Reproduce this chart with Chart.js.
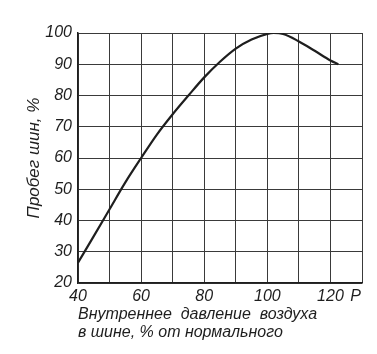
<!DOCTYPE html>
<html>
<head>
<meta charset="utf-8">
<script src="https://cdn.jsdelivr.net/npm/chart.js@4/dist/chart.umd.min.js"></script>
<style>
  html, body { margin: 0; padding: 0; background: #fff; }
  #wrap { width: 377px; height: 354px; }
</style>
</head>
<body>
<div id="wrap"><canvas id="c" width="377" height="354"></canvas></div>
<script>
// Pressure, % of normal
const pressure = [40, 45, 50, 55, 60, 65, 70, 75, 80, 85, 90, 95, 100, 102, 105, 110, 115, 120, 122.5];
// Tire mileage, %
const mileage  = [26.5, 35, 43.6, 52.2, 60, 67.5, 74, 80, 85.8, 90.8, 95, 97.9, 99.7, 100, 99.7, 97.3, 94.3, 91.2, 90];
// x tick positions and labels
const xTickValues = [40, 50, 60, 70, 80, 90, 100, 110, 120, 128, 130];
const xTickLabels = ['40', '', '60', '', '80', '', '100', '', '120', 'P', ''];
const yMin = 20, yMax = 100, yStep = 10;
const xTitle = ['Внутреннее  давление  воздуха', 'в шине, % от нормального'];
const yTitle = 'Пробег шин, %';

const tickFont = { family: "'Liberation Sans Narrow', 'Liberation Sans', sans-serif", size: 16, style: 'italic' };
const titleFont = { family: "'Liberation Sans', 'DejaVu Sans', sans-serif", size: 16, style: 'italic', lineHeight: 1.125 };
const yTitleFont = { family: "'Liberation Sans', 'DejaVu Sans', sans-serif", size: 17, style: 'italic', lineHeight: 1.2 };
const ink = '#1e1e1e';
const gridInk = '#3a3a3a';

new Chart(document.getElementById('c'), {
  type: 'line',
  data: {
    datasets: [{
      data: pressure.map((p, i) => ({ x: p, y: mileage[i] })),
      borderColor: ink,
      borderWidth: 2.2,
      pointRadius: 0,
      cubicInterpolationMode: 'monotone',
      fill: false
    }]
  },
  options: {
    responsive: false,
    animation: false,
    layout: { padding: { left: 0, right: 15, top: 33, bottom: 0 } },
    plugins: { legend: { display: false }, tooltip: { enabled: false } },
    scales: {
      x: {
        type: 'linear',
        min: 40, max: 130,
        afterBuildTicks: (s) => { s.ticks = xTickValues.map(v => ({ value: v })); },
        afterFit: (s) => { s.height = 71; },
        grid: {
          drawTicks: false,
          color: (ctx) => (ctx.tick && ctx.tick.value === 128) ? 'rgba(0,0,0,0)' : gridInk,
          lineWidth: 1
        },
        border: { display: true, color: ink, width: 1.5 },
        ticks: {
          autoSkip: false,
          maxRotation: 0,
          padding: 4,
          color: ink,
          font: tickFont,
          callback: (v) => { const i = xTickValues.indexOf(v); return i >= 0 ? xTickLabels[i] : ''; }
        },
        title: {
          display: true,
          text: xTitle,
          align: 'start',
          color: ink,
          font: titleFont,
          padding: { top: 0, bottom: 12 }
        }
      },
      y: {
        min: yMin, max: yMax,
        afterFit: (s) => { s.width = 78; },
        grid: { drawTicks: false, color: gridInk, lineWidth: 1 },
        border: { display: true, color: ink, width: 1.5 },
        ticks: {
          stepSize: yStep,
          padding: 6,
          color: ink,
          font: tickFont
        },
        title: {
          display: true,
          text: yTitle,
          color: ink,
          font: yTitleFont,
          padding: { top: 24, bottom: 0 }
        }
      }
    }
  }
});
</script>
</body>
</html>
